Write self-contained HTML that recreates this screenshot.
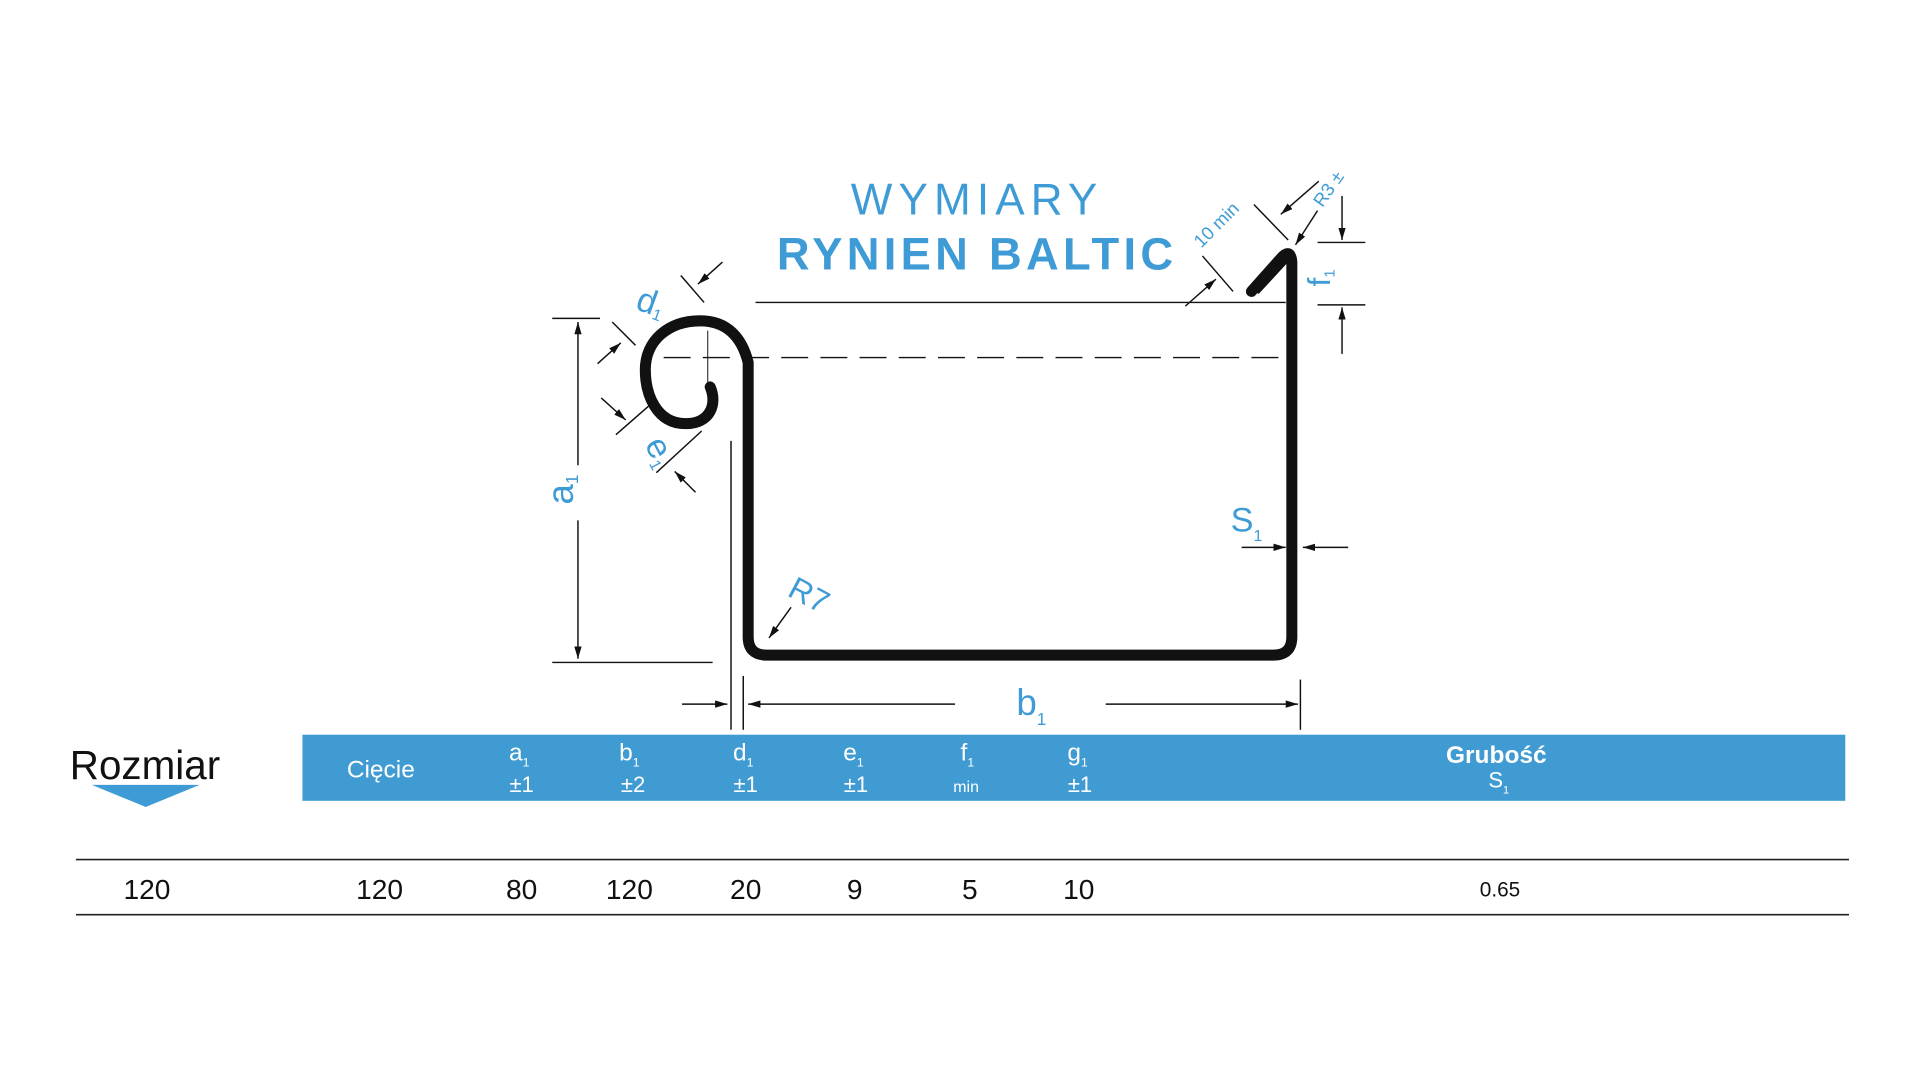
<!DOCTYPE html>
<html><head><meta charset="utf-8"><style>
html,body{margin:0;padding:0;background:#fff;}
svg{display:block;}
text{font-family:"Liberation Sans",sans-serif;}
.b{fill:#3f9bd5;}
.w{fill:#fff;}
</style></head><body>
<svg width="1920" height="1080" viewBox="0 0 1568 882" xmlns="http://www.w3.org/2000/svg">
<defs>
<marker id="ar" markerWidth="10" markerHeight="6" refX="10" refY="3" orient="auto" markerUnits="userSpaceOnUse"><path d="M0,0 L10,3 L0,6 Z" fill="#111"/></marker>
</defs>
<!-- title -->
<text x="798" y="175" text-anchor="middle" font-size="36" class="b" letter-spacing="5">WYMIARY</text>
<text x="798" y="220" text-anchor="middle" font-size="37" font-weight="bold" class="b" letter-spacing="3.5">RYNIEN BALTIC</text>

<!-- profile -->
<path d="M580,316 C586,330 580,346 560,346 C536,346 527,322 527,302 C527,278 546,262 572,262 C594,262 606,276 611,296 L611,520 Q611,535 626,535 L1040,535 Q1055,535 1055,520 L1055,214 Q1054,202 1046,211 L1022,238" fill="none" stroke="#111" stroke-width="9" stroke-linecap="round" stroke-linejoin="round"/>
<path d="M1050,208 L1020,236 L1028,240 L1052,214 Z" fill="#111"/>

<g stroke="#111" stroke-width="1.2" fill="none">
<!-- a1 -->
<line x1="451" y1="260" x2="490" y2="260"/>
<line x1="451" y1="541" x2="582" y2="541"/>
<line x1="472" y1="380" x2="472" y2="263" marker-end="url(#ar)"/>
<line x1="472" y1="425" x2="472" y2="538" marker-end="url(#ar)"/>
<!-- reference lines -->
<line x1="617" y1="247" x2="1050" y2="247"/>
<line x1="542" y1="292" x2="1052" y2="292" stroke-dasharray="22,10"/>
<line x1="578" y1="270" x2="578" y2="315" stroke-width="0.8"/>
<line x1="597" y1="360" x2="597" y2="596"/>
<line x1="607" y1="552" x2="607" y2="596"/>
<!-- b1 -->
<line x1="557" y1="575" x2="594" y2="575" marker-end="url(#ar)"/>
<line x1="780" y1="575" x2="611" y2="575" marker-end="url(#ar)"/>
<line x1="903" y1="575" x2="1060" y2="575" marker-end="url(#ar)"/>
<line x1="1062" y1="555" x2="1062" y2="596"/>
<!-- f1 -->
<line x1="1076" y1="198" x2="1115" y2="198"/>
<line x1="1076" y1="249" x2="1115" y2="249"/>
<line x1="1096" y1="160" x2="1096" y2="196" marker-end="url(#ar)"/>
<line x1="1096" y1="289" x2="1096" y2="251" marker-end="url(#ar)"/>
<!-- S1 -->
<line x1="1014" y1="447" x2="1050" y2="447" marker-end="url(#ar)"/>
<line x1="1101" y1="447" x2="1064" y2="447" marker-end="url(#ar)"/>
<!-- R7 -->
<line x1="646" y1="496" x2="628" y2="521" marker-end="url(#ar)"/>
<!-- d1 -->
<line x1="556" y1="225" x2="575" y2="247"/>
<line x1="500" y1="263" x2="519" y2="282"/>
<line x1="590" y1="214" x2="570" y2="232" marker-end="url(#ar)"/>
<line x1="488" y1="297" x2="507" y2="280" marker-end="url(#ar)"/>
<!-- e1 -->
<line x1="503" y1="355" x2="535" y2="327"/>
<line x1="536" y1="386" x2="573" y2="352"/>
<line x1="491" y1="325" x2="511" y2="343" marker-end="url(#ar)"/>
<line x1="568" y1="402" x2="551" y2="385" marker-end="url(#ar)"/>
<!-- 10 min -->
<line x1="1024" y1="167" x2="1052" y2="196"/>
<line x1="982" y1="209" x2="1007" y2="238"/>
<line x1="968" y1="250" x2="993" y2="228" marker-end="url(#ar)"/>
<line x1="1077" y1="148" x2="1046" y2="175" marker-end="url(#ar)"/>
<line x1="1076" y1="172" x2="1058" y2="200" marker-end="url(#ar)"/>
</g>

<!-- labels -->
<text x="0" y="0" font-size="30" class="b" transform="translate(468,412) rotate(-90)">a<tspan font-size="14" dy="4">1</tspan></text>
<text x="830" y="584" font-size="30" class="b">b<tspan font-size="14" dy="8">1</tspan></text>
<text x="0" y="0" font-size="26" class="b" transform="translate(1086,234) rotate(-90)">f<tspan font-size="12" dy="4">1</tspan></text>
<text x="1005" y="434" font-size="28" class="b">S<tspan font-size="13" dy="8">1</tspan></text>
<text x="0" y="0" font-size="26" class="b" transform="translate(642,486) rotate(28)">R7</text>
<text x="0" y="0" font-size="28" class="b" transform="translate(518,252) rotate(20)">d<tspan font-size="13" dy="3">1</tspan></text>
<text x="0" y="0" font-size="28" class="b" transform="translate(526,363) rotate(62)">e<tspan font-size="13" dy="4">1</tspan></text>
<text x="0" y="0" font-size="15" class="b" transform="translate(981,203) rotate(-45)">10 min</text>
<text x="0" y="0" font-size="15" class="b" transform="translate(1080,170) rotate(-55)">R3 ±</text>

<!-- table header -->
<text x="57" y="636" font-size="33" fill="#111">Rozmiar</text>
<polygon points="75,641 163,641 119,659" fill="#3f9bd5"/>
<rect x="247" y="600" width="1260" height="54" fill="#409bd2"/>
<g class="w" font-size="20" text-anchor="middle">
<text x="311" y="635">Cięcie</text>
<text x="424" y="621">a<tspan font-size="10" dy="5">1</tspan></text><text x="426" y="647" font-size="18">±1</text>
<text x="514" y="621">b<tspan font-size="10" dy="5">1</tspan></text><text x="517" y="647" font-size="18">±2</text>
<text x="607" y="621">d<tspan font-size="10" dy="5">1</tspan></text><text x="609" y="647" font-size="18">±1</text>
<text x="697" y="621">e<tspan font-size="10" dy="5">1</tspan></text><text x="699" y="647" font-size="18">±1</text>
<text x="790" y="621">f<tspan font-size="10" dy="5">1</tspan></text><text x="789" y="647" font-size="13">min</text>
<text x="880" y="621">g<tspan font-size="10" dy="5">1</tspan></text><text x="882" y="647" font-size="18">±1</text>
<text x="1222" y="623" font-size="20" font-weight="bold">Grubość</text>
<text x="1224" y="643" font-size="18">S<tspan font-size="9" dy="5">1</tspan></text>
</g>
<line x1="62" y1="702" x2="1510" y2="702" stroke="#222" stroke-width="1.3"/>
<line x1="62" y1="747" x2="1510" y2="747" stroke="#222" stroke-width="1.3"/>
<g font-size="23" fill="#111" text-anchor="middle">
<text x="120" y="734">120</text>
<text x="310" y="734">120</text>
<text x="426" y="734">80</text>
<text x="514" y="734">120</text>
<text x="609" y="734">20</text>
<text x="698" y="734">9</text>
<text x="792" y="734">5</text>
<text x="881" y="734">10</text>
<text x="1225" y="732" font-size="17">0.65</text>
</g>
</svg>
</body></html>
